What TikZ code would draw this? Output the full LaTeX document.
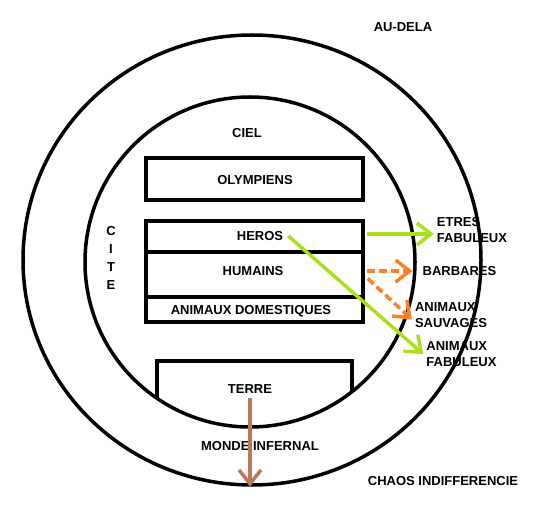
\documentclass[tikz,border=0pt]{standalone}
\usepackage{fontspec}
\setmainfont{Liberation Sans}
\usepackage{tikz}
\usetikzlibrary{arrows.meta, positioning, calc, shapes.geometric}
\definecolor{lime}   {HTML}{A8E01C}
\definecolor{orangey}{HTML}{FF7F27}
\definecolor{earth}  {HTML}{B97A57}

\tikzset{
  lbl/.style={font=\fontsize{13}{16}\selectfont\bfseries, inner sep=2pt},
  band/.style={draw, line width=3.5pt, minimum width=217pt, inner sep=0pt},
  barb/.style={-{Straight Barb[length=14pt, width=22pt]}, line width=3.5pt},
}

\begin{document}
\begin{tikzpicture}[x=1pt, y=-1pt]
    \useasboundingbox (0, 0) rectangle (543, 526);

    % --- the two worlds ------------------------------------------------------
    \node[ellipse, draw, line width=3.5pt, minimum width=458pt, minimum height=450pt,
      inner sep=0pt] (outer) at (252, 260) {};
    \node[circle, draw, line width=3.5pt, minimum size=330pt, inner sep=0pt]
      (inner) at (250, 262) {};

    \node[lbl] (audela) at (403, 27) {AU-DELA};
    \node[lbl] (ciel)   at (247, 133) {CIEL};
    \node[lbl, align=center, font=\fontsize{13}{18}\selectfont\bfseries]
      (cite) at (111, 258) {C\\I\\T\\E};

    % --- the bands of the city -----------------------------------------------
    \node[band, minimum height=42pt] (olymp)  at (254.5, 179)   {};
    \node[band, minimum height=31pt] (heros)  at (254.5, 236.5) {};
    \node[band, minimum height=45pt] (hum)    at (254.5, 274.5) {};
    \node[band, minimum height=25pt] (dom)    at (254.5, 309.5) {};

    \node[lbl] (olymptxt) at (255, 180)   {OLYMPIENS};
    \node[lbl] (herostxt) at (260, 236)   {HEROS};
    \node[lbl] (humtxt)   at (253, 271.5) {HUMAINS};
    \node[lbl] (domtxt)   at (251, 311.5) {ANIMAUX DOMESTIQUES};

    % the earth box runs down into the circle
    \begin{scope}
      \clip (250, 262) circle[radius=165pt];
      \draw[line width=3.5pt] (157, 440) -- (157, 361) -- (352, 361) -- (352, 440);
    \end{scope}
    \node[lbl] (terre)  at (250, 389.5) {TERRE};
    \node[lbl] (enfer)  at (260, 446)   {MONDE INFERNAL};
    \node[lbl] (chaos)  at (443, 481)   {CHAOS INDIFFERENCIE};

    % --- what lies outside ---------------------------------------------------
    \node[lbl, align=left, font=\fontsize{13}{16}\selectfont\bfseries]
      (etres) at (472, 230) {ETRES\\FABULEUX};
    \node[lbl] (barb) at (459.5, 271) {BARBARES};
    \node[lbl, align=left, font=\fontsize{13}{16}\selectfont\bfseries]
      (sauv) at (451, 315.5) {ANIMAUX\\SAUVAGES};
    \node[lbl, align=left, font=\fontsize{13}{16}\selectfont\bfseries]
      (fab) at (461.5, 354) {ANIMAUX\\FABULEUX};

    % --- connectors ----------------------------------------------------------
    \draw[barb, lime] ([xshift=2pt]heros.east |- 0, 234) -- ([xshift=-1pt]etres.west |- 0, 234);
    \draw[barb, lime] ([xshift=3pt]herostxt.east) -- ([xshift=-1pt]fab.west);
    \draw[barb, orangey, dash pattern=on 8pt off 4pt]
      ([xshift=2pt]hum.east |- barb.west) -- ([xshift=-8pt]barb.west);
    \draw[barb, orangey, dash pattern=on 8pt off 4pt]
      ([xshift=3pt, yshift=-4pt]hum.east) -- ([xshift=-1pt, yshift=-4pt]sauv.west);
    \draw[barb, earth] ([yshift=-2pt]terre.south) -- (terre.south |- outer.south);
\end{tikzpicture}
\end{document}
